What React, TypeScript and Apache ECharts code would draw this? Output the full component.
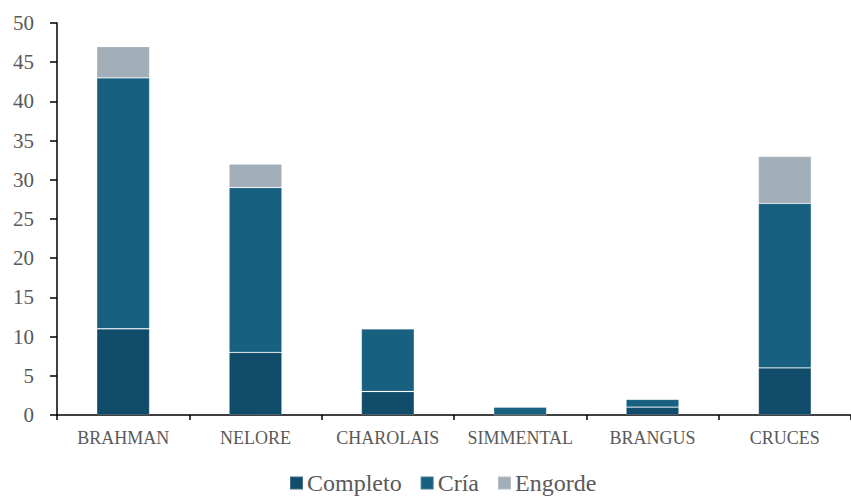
import React, { useEffect, useRef } from "react";
import * as echarts from "echarts";

// Razas y número de fincas por sistema de producción
const categories = ["BRAHMAN", "NELORE", "CHAROLAIS", "SIMMENTAL", "BRANGUS", "CRUCES"];
const completo = [11, 8, 3, 0, 1, 6];
const cria = [32, 21, 8, 1, 1, 21];
const engorde = [4, 3, 0, 0, 0, 6];

const seriesNames = ["Completo", "Cría", "Engorde"];
const colors = ["#114d6a", "#17607f", "#a2afb9"];

const FONT = "Liberation Serif, Times New Roman, serif";

export default function App() {
  const ref = useRef<HTMLDivElement>(null);

  useEffect(() => {
    if (!ref.current) return;
    const chart = echarts.init(ref.current, undefined, { renderer: "svg" });
    const data = [completo, cria, engorde];
    chart.setOption({
      animation: false,
      backgroundColor: "#ffffff",
      textStyle: { fontFamily: FONT },
      grid: { left: 57, top: 23, width: 803, height: 392, containLabel: false },
      legend: {
        left: 284,
        bottom: -4,
        itemWidth: 13,
        itemHeight: 13,
        itemGap: 18,
        icon: "rect",
        data: seriesNames,
        textStyle: { fontFamily: FONT, fontSize: 24, color: "#595959", padding: [0, 0, 0, -1] },
      },
      xAxis: {
        type: "category",
        data: categories,
        axisLine: { lineStyle: { color: "#000", width: 1.5 } },
        axisTick: { show: true, length: 5, lineStyle: { color: "#000", width: 1.5 } },
        axisLabel: { fontFamily: FONT, fontSize: 18, color: "#595959", margin: 14, interval: 0 },
      },
      yAxis: {
        type: "value",
        min: 0,
        max: 50,
        interval: 5,
        splitLine: { show: false },
        axisLine: { show: true, lineStyle: { color: "#000", width: 1.5 } },
        axisTick: { show: true, length: 7, lineStyle: { color: "#000", width: 1.5 } },
        axisLabel: { fontFamily: FONT, fontSize: 21, color: "#595959", margin: 23 },
      },
      series: seriesNames.map((name, i) => ({
        name,
        type: "bar",
        stack: "total",
        barWidth: "40%",
        data: data[i],
        itemStyle: { color: colors[i], borderColor: "rgba(255,255,255,0.2)", borderWidth: 0.8 },
      })),
    });
    return () => chart.dispose();
  }, []);

  return (
    <div
      ref={ref}
      style={{ position: "fixed", left: 0, top: 0, width: 851, height: 496 }}
    />
  );
}
